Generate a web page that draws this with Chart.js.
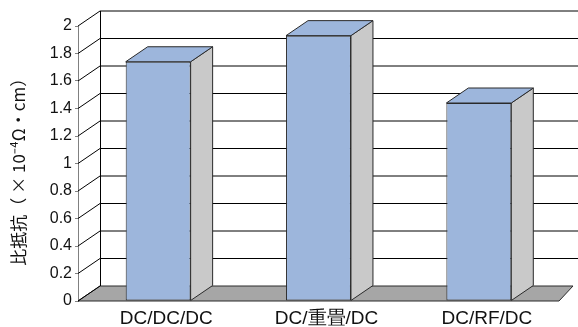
<!DOCTYPE html>
<html><head><meta charset="utf-8">
<script src="https://cdn.jsdelivr.net/npm/chart.js@4"></script>
<style>html,body{margin:0;padding:0;background:#fff}canvas{display:block}</style>
</head><body>
<canvas id="c" width="578" height="327"></canvas>
<script>
const categories = ['DC/DC/DC', 'DC/重畳/DC', 'DC/RF/DC'];
const resistivity = [1.74, 1.93, 1.44];
const yTickLabels = ['0', '0.2', '0.4', '0.6', '0.8', '1', '1.2', '1.4', '1.6', '1.8', '2'];
const yTitle = '比抵抗（ × 10⁻⁴Ω・cm）\u2002';

const DEPTH_X = 22, DEPTH_Y = 15, FLOOR_RIGHT_DX = 14;
const BAR_FRONT = '#9db6dc', BAR_SIDE = '#c9c9c9', FLOOR = '#a6a6a6', EDGE = '#2a2a2a';

const box3d = {
  id: 'box3d',
  beforeDatasetsDraw(chart) {
    const { ctx, chartArea: a, scales: { y } } = chart;
    const W = chart.width;
    ctx.save();
    ctx.lineWidth = 1;
    // back wall grid lines
    ctx.strokeStyle = '#000';
    y.ticks.forEach((t, i) => {
      if (i === 0) return;
      const py = y.getPixelForValue(t.value) - DEPTH_Y;
      ctx.beginPath();
      ctx.moveTo(a.left + DEPTH_X, py);
      ctx.lineTo(W, py);
      ctx.stroke();
    });
    // floor
    const y0 = y.getPixelForValue(0);
    ctx.beginPath();
    ctx.moveTo(a.left, y0);
    ctx.lineTo(a.right, y0);
    ctx.lineTo(a.right + FLOOR_RIGHT_DX, y0 - DEPTH_Y);
    ctx.lineTo(a.left + DEPTH_X, y0 - DEPTH_Y);
    ctx.closePath();
    ctx.fillStyle = FLOOR;
    ctx.fill();
    ctx.strokeStyle = EDGE;
    ctx.stroke();
    // diagonal tick connectors
    ctx.strokeStyle = '#000';
    y.ticks.forEach(t => {
      const py = y.getPixelForValue(t.value);
      ctx.beginPath();
      ctx.moveTo(a.left, py);
      ctx.lineTo(a.left + DEPTH_X, py - DEPTH_Y);
      ctx.stroke();
    });
    // back wall left edge
    ctx.beginPath();
    ctx.moveTo(a.left + DEPTH_X + 0.5, y.getPixelForValue(y.max) - DEPTH_Y);
    ctx.lineTo(a.left + DEPTH_X + 0.5, y0 - DEPTH_Y);
    ctx.stroke();
    // bar sides and tops
    const meta = chart.getDatasetMeta(0);
    meta.data.forEach(bar => {
      const p = bar.getProps(['x', 'y', 'width', 'base'], true);
      const l = p.x - p.width / 2, r = p.x + p.width / 2;
      ctx.strokeStyle = EDGE;
      ctx.beginPath();
      ctx.moveTo(r, p.y);
      ctx.lineTo(r + DEPTH_X, p.y - DEPTH_Y);
      ctx.lineTo(r + DEPTH_X, p.base - DEPTH_Y);
      ctx.lineTo(r, p.base);
      ctx.closePath();
      ctx.fillStyle = BAR_SIDE;
      ctx.fill();
      ctx.stroke();
      ctx.beginPath();
      ctx.moveTo(l, p.y);
      ctx.lineTo(l + DEPTH_X, p.y - DEPTH_Y);
      ctx.lineTo(r + DEPTH_X, p.y - DEPTH_Y);
      ctx.lineTo(r, p.y);
      ctx.closePath();
      ctx.fillStyle = BAR_FRONT;
      ctx.fill();
      ctx.stroke();
    });
    ctx.restore();
  }
};

new Chart(document.getElementById('c'), {
  type: 'bar',
  data: {
    labels: categories,
    datasets: [{
      data: resistivity,
      backgroundColor: BAR_FRONT,
      borderColor: EDGE,
      borderWidth: 1,
      borderSkipped: false,
      barPercentage: 1,
      categoryPercentage: 0.405
    }]
  },
  options: {
    responsive: false,
    animation: false,
    devicePixelRatio: 1,
    layout: { padding: { top: 26, right: 19, left: 0, bottom: 0 } },
    plugins: { legend: { display: false }, tooltip: { enabled: false } },
    scales: {
      x: {
        grid: { display: false, drawTicks: false },
        border: { display: false },
        ticks: { font: { family: 'Liberation Sans', size: 19 }, color: '#111', padding: 6, labelOffset: 8, maxRotation: 0, autoSkip: false },
        afterFit(s) { s.height = 26; }
      },
      y: {
        min: 0, max: 2,
        ticks: { stepSize: 0.2, callback: (v, i) => yTickLabels[i], font: { family: 'Liberation Sans', size: 16 }, color: '#111', padding: 3 },
        grid: { drawOnChartArea: false, color: '#808080', tickLength: 3 },
        border: { color: '#808080' },
        title: { display: true, text: yTitle, font: { family: 'Noto Sans CJK JP', size: 17 }, color: '#111', padding: { top: 8, bottom: 0 } },
        afterFit(s) { s.width = 78; }
      }
    }
  },
  plugins: [box3d]
});
</script>
</body></html>
